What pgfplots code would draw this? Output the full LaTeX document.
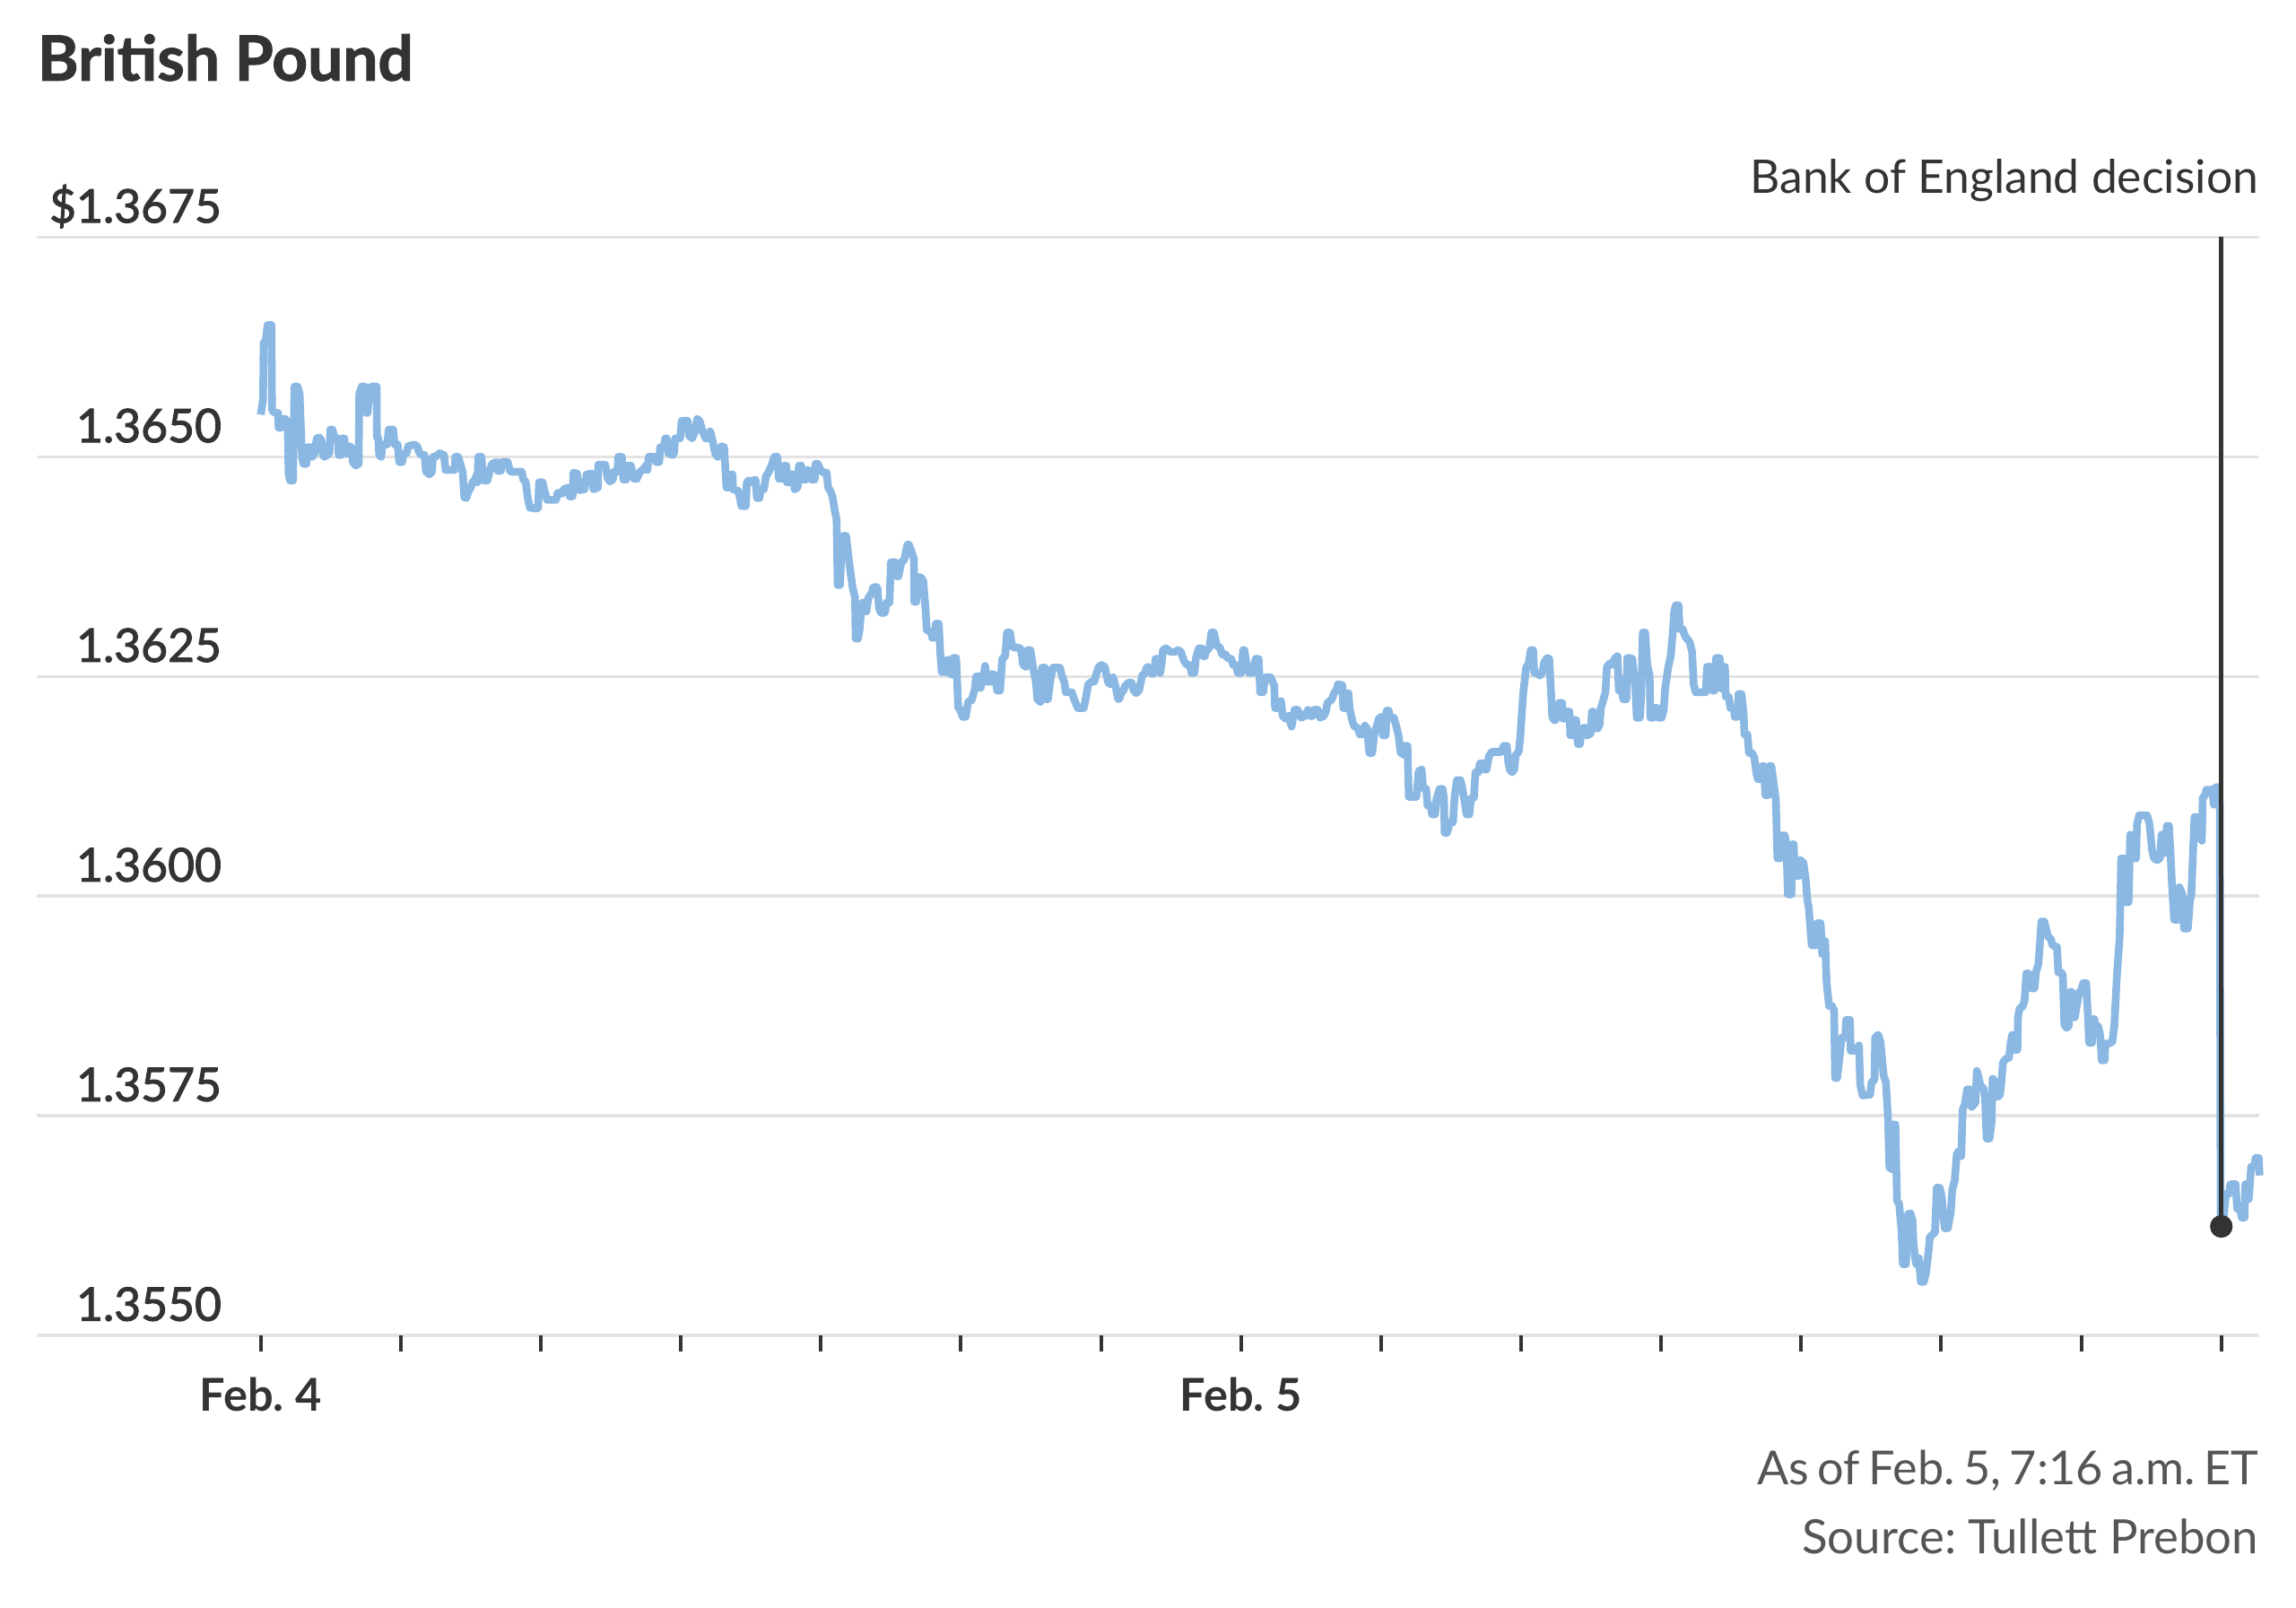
\documentclass[border=0pt]{standalone}
\usepackage{fontspec}
\setmainfont{Lato}
\usepackage{pgfplots}
\pgfplotsset{compat=1.18}
\definecolor{gbpblue}{HTML}{8AB8E2}
\definecolor{inkdark}{HTML}{333333}
\definecolor{gridgray}{HTML}{E3E3E3}
\definecolor{notegray}{HTML}{555555}
\newfontfamily\semib{Lato}[FakeBold=2]
\newfontfamily\titlefont{Lato}[BoldFeatures={FakeBold=1.5}]
\frenchspacing

\begin{document}
\begin{tikzpicture}
\path[use as bounding box] (-2.5mm,-18.56mm) rectangle (154.3mm,91.2mm);
\begin{axis}[
  at={(0,0)}, anchor=south west,
  scale only axis, width=151.8mm, height=75mm,
  xmin=-1.6, xmax=14.272, ymin=1.355, ymax=1.3675,
  axis line style={draw=none},
  xtick={0,1,2,3,4,5,6,7,8,9,10,11,12,13,14},
  xticklabels={Feb. 4,,,,,,,Feb. 5,,,,,,,},
  ytick={1.355,1.3575,1.36,1.3625,1.365,1.3675},
  yticklabels={1.3550,1.3575,1.3600,1.3625,1.3650,\$1.3675},
  ymajorgrids, grid style={draw=gridgray, line width=0.6pt},
  xtick pos=bottom, ytick pos=left, tick align=outside,
  major tick length=1.1mm,
  ytick style={draw=none},
  xtick style={draw=inkdark, line width=0.7pt},
  xticklabel style={font=\fontsize{8.8}{10}\selectfont\bfseries, text=inkdark,
    anchor=base, inner sep=0pt, yshift=-4.1mm},
  yticklabel style={font=\fontsize{9}{10}\selectfont\semib, text=inkdark,
    anchor=base east, inner sep=0pt, xshift=13.8mm, yshift=1.0mm},
  clip=false,
]
\addplot[gbpblue, line width=1.5pt, line join=round] table {
x y
0.000 1.36548
0.017 1.36565
0.021 1.36630
0.034 1.36630
0.049 1.36650
0.077 1.36650
0.081 1.36553
0.102 1.36550
0.124 1.36550
0.128 1.36533
0.145 1.36533
0.149 1.36543
0.177 1.36543
0.192 1.36539
0.199 1.36482
0.209 1.36473
0.231 1.36473
0.241 1.36580
0.263 1.36580
0.278 1.36572
0.295 1.36500
0.305 1.36492
0.327 1.36492
0.335 1.36511
0.359 1.36511
0.369 1.36500
0.384 1.36504
0.401 1.36521
0.418 1.36522
0.433 1.36519
0.444 1.36502
0.455 1.36500
0.476 1.36502
0.491 1.36504
0.497 1.36531
0.512 1.36531
0.529 1.36521
0.551 1.36521
0.557 1.36502
0.572 1.36502
0.583 1.36521
0.598 1.36521
0.604 1.36504
0.625 1.36504
0.636 1.36512
0.651 1.36510
0.658 1.36494
0.679 1.36490
0.700 1.36492
0.704 1.36572
0.722 1.36580
0.743 1.36580
0.754 1.36550
0.764 1.36550
0.775 1.36570
0.786 1.36570
0.790 1.36580
0.828 1.36580
0.830 1.36522
0.839 1.36522
0.846 1.36502
0.860 1.36500
0.871 1.36514
0.903 1.36514
0.914 1.36531
0.946 1.36531
0.956 1.36514
0.978 1.36514
0.989 1.36494
1.010 1.36494
1.021 1.36504
1.042 1.36504
1.053 1.36512
1.096 1.36514
1.117 1.36512
1.132 1.36505
1.149 1.36502
1.170 1.36502
1.181 1.36483
1.206 1.36480
1.223 1.36483
1.230 1.36500
1.249 1.36500
1.277 1.36504
1.309 1.36502
1.320 1.36485
1.384 1.36485
1.390 1.36500
1.409 1.36500
1.426 1.36492
1.443 1.36482
1.454 1.36454
1.469 1.36453
1.484 1.36461
1.501 1.36465
1.512 1.36471
1.527 1.36473
1.544 1.36480
1.548 1.36471
1.554 1.36500
1.576 1.36500
1.593 1.36473
1.618 1.36473
1.640 1.36486
1.651 1.36492
1.683 1.36494
1.693 1.36484
1.715 1.36484
1.721 1.36494
1.764 1.36494
1.779 1.36484
1.794 1.36483
1.864 1.36483
1.875 1.36474
1.892 1.36472
1.907 1.36453
1.922 1.36442
1.939 1.36442
1.964 1.36441
1.981 1.36442
1.988 1.36471
2.013 1.36471
2.024 1.36463
2.045 1.36451
2.109 1.36451
2.120 1.36459
2.152 1.36458
2.163 1.36463
2.195 1.36465
2.206 1.36455
2.227 1.36455
2.233 1.36482
2.259 1.36481
2.274 1.36462
2.312 1.36463
2.327 1.36480
2.366 1.36481
2.376 1.36463
2.408 1.36465
2.410 1.36491
2.461 1.36491
2.476 1.36476
2.493 1.36472
2.515 1.36474
2.521 1.36483
2.547 1.36483
2.553 1.36500
2.579 1.36500
2.590 1.36474
2.610 1.36474
2.622 1.36490
2.643 1.36490
2.665 1.36475
2.686 1.36475
2.707 1.36483
2.729 1.36485
2.750 1.36490
2.761 1.36485
2.771 1.36500
2.814 1.36500
2.825 1.36494
2.846 1.36494
2.852 1.36511
2.878 1.36511
2.889 1.36521
2.899 1.36521
2.910 1.36504
2.942 1.36502
2.953 1.36505
2.959 1.36521
2.995 1.36521
3.006 1.36541
3.049 1.36541
3.059 1.36524
3.081 1.36521
3.102 1.36529
3.117 1.36543
3.134 1.36541
3.155 1.36529
3.177 1.36521
3.198 1.36521
3.209 1.36529
3.226 1.36519
3.245 1.36504
3.262 1.36500
3.288 1.36512
3.309 1.36511
3.326 1.36465
3.348 1.36465
3.358 1.36480
3.369 1.36480
3.373 1.36463
3.412 1.36461
3.433 1.36444
3.465 1.36444
3.471 1.36471
3.486 1.36473
3.508 1.36471
3.518 1.36473
3.533 1.36474
3.544 1.36453
3.561 1.36453
3.572 1.36463
3.593 1.36463
3.608 1.36478
3.625 1.36482
3.647 1.36490
3.668 1.36500
3.689 1.36500
3.700 1.36475
3.732 1.36475
3.736 1.36490
3.753 1.36490
3.757 1.36471
3.775 1.36471
3.785 1.36480
3.800 1.36480
3.813 1.36463
3.834 1.36465
3.843 1.36490
3.860 1.36490
3.871 1.36474
3.892 1.36474
3.903 1.36485
3.924 1.36484
3.935 1.36474
3.956 1.36474
3.962 1.36492
3.977 1.36492
3.992 1.36487
4.009 1.36483
4.020 1.36482
4.041 1.36482
4.052 1.36465
4.069 1.36461
4.084 1.36454
4.099 1.36439
4.112 1.36429
4.120 1.36354
4.137 1.36354
4.148 1.36398
4.159 1.36410
4.180 1.36410
4.201 1.36381
4.212 1.36368
4.227 1.36351
4.244 1.36340
4.248 1.36293
4.265 1.36293
4.276 1.36303
4.287 1.36323
4.297 1.36334
4.319 1.36334
4.325 1.36324
4.340 1.36340
4.361 1.36344
4.372 1.36351
4.394 1.36352
4.404 1.36351
4.415 1.36328
4.426 1.36323
4.441 1.36322
4.458 1.36323
4.468 1.36334
4.490 1.36334
4.500 1.36380
4.532 1.36380
4.543 1.36364
4.554 1.36364
4.575 1.36380
4.596 1.36383
4.618 1.36400
4.628 1.36400
4.650 1.36391
4.665 1.36383
4.667 1.36335
4.682 1.36335
4.692 1.36363
4.714 1.36363
4.731 1.36359
4.746 1.36330
4.756 1.36303
4.789 1.36300
4.795 1.36294
4.810 1.36294
4.820 1.36310
4.842 1.36310
4.853 1.36276
4.863 1.36255
4.889 1.36255
4.906 1.36269
4.917 1.36254
4.938 1.36252
4.944 1.36271
4.966 1.36271
4.981 1.36214
4.991 1.36213
5.013 1.36204
5.034 1.36204
5.051 1.36221
5.077 1.36223
5.098 1.36235
5.109 1.36250
5.130 1.36250
5.141 1.36237
5.162 1.36250
5.173 1.36262
5.188 1.36244
5.216 1.36244
5.226 1.36253
5.248 1.36251
5.258 1.36234
5.280 1.36234
5.295 1.36270
5.316 1.36273
5.329 1.36300
5.350 1.36300
5.365 1.36285
5.376 1.36283
5.397 1.36283
5.423 1.36282
5.435 1.36275
5.444 1.36263
5.465 1.36261
5.476 1.36280
5.497 1.36280
5.514 1.36261
5.536 1.36243
5.546 1.36224
5.568 1.36221
5.578 1.36260
5.600 1.36260
5.606 1.36224
5.621 1.36224
5.642 1.36249
5.657 1.36260
5.707 1.36260
5.721 1.36251
5.739 1.36243
5.749 1.36232
5.792 1.36232
5.813 1.36222
5.835 1.36214
5.877 1.36214
5.888 1.36222
5.909 1.36241
5.931 1.36244
5.952 1.36244
5.963 1.36251
5.984 1.36261
6.005 1.36263
6.027 1.36261
6.037 1.36253
6.052 1.36243
6.069 1.36241
6.086 1.36249
6.101 1.36241
6.123 1.36224
6.133 1.36225
6.144 1.36231
6.161 1.36234
6.172 1.36239
6.198 1.36243
6.219 1.36243
6.234 1.36234
6.251 1.36231
6.272 1.36234
6.294 1.36251
6.315 1.36254
6.326 1.36260
6.336 1.36261
6.362 1.36253
6.379 1.36254
6.390 1.36270
6.417 1.36270
6.422 1.36254
6.432 1.36263
6.443 1.36280
6.464 1.36282
6.496 1.36278
6.528 1.36278
6.550 1.36280
6.571 1.36278
6.592 1.36268
6.614 1.36263
6.635 1.36263
6.646 1.36254
6.667 1.36254
6.678 1.36271
6.699 1.36282
6.720 1.36282
6.731 1.36273
6.742 1.36273
6.752 1.36280
6.774 1.36282
6.789 1.36300
6.806 1.36300
6.827 1.36285
6.849 1.36283
6.866 1.36275
6.891 1.36275
6.902 1.36271
6.930 1.36270
6.945 1.36263
6.966 1.36263
6.977 1.36254
7.002 1.36254
7.015 1.36280
7.024 1.36280
7.041 1.36263
7.058 1.36254
7.083 1.36254
7.105 1.36270
7.126 1.36270
7.137 1.36232
7.158 1.36232
7.173 1.36249
7.211 1.36249
7.237 1.36240
7.243 1.36214
7.265 1.36214
7.286 1.36222
7.297 1.36205
7.318 1.36202
7.339 1.36205
7.361 1.36193
7.382 1.36212
7.404 1.36212
7.429 1.36203
7.457 1.36205
7.478 1.36212
7.493 1.36205
7.510 1.36205
7.521 1.36212
7.549 1.36212
7.564 1.36203
7.591 1.36205
7.606 1.36210
7.617 1.36220
7.649 1.36224
7.664 1.36231
7.681 1.36234
7.692 1.36241
7.724 1.36240
7.730 1.36214
7.745 1.36214
7.767 1.36231
7.777 1.36212
7.799 1.36197
7.809 1.36193
7.831 1.36192
7.848 1.36184
7.869 1.36184
7.884 1.36194
7.899 1.36191
7.916 1.36163
7.937 1.36163
7.954 1.36188
7.969 1.36193
7.984 1.36202
8.001 1.36204
8.012 1.36183
8.033 1.36183
8.040 1.36211
8.055 1.36211
8.065 1.36203
8.091 1.36203
8.108 1.36194
8.125 1.36183
8.140 1.36163
8.161 1.36161
8.168 1.36171
8.189 1.36171
8.198 1.36113
8.253 1.36113
8.268 1.36142
8.290 1.36144
8.300 1.36123
8.322 1.36122
8.332 1.36103
8.354 1.36103
8.364 1.36093
8.386 1.36093
8.396 1.36111
8.418 1.36122
8.439 1.36122
8.450 1.36111
8.454 1.36072
8.471 1.36072
8.492 1.36084
8.514 1.36084
8.524 1.36111
8.541 1.36132
8.567 1.36132
8.578 1.36125
8.599 1.36105
8.610 1.36093
8.631 1.36093
8.642 1.36111
8.663 1.36112
8.674 1.36141
8.695 1.36141
8.706 1.36151
8.727 1.36151
8.738 1.36144
8.753 1.36144
8.770 1.36159
8.791 1.36164
8.855 1.36164
8.877 1.36171
8.898 1.36171
8.909 1.36152
8.919 1.36144
8.936 1.36141
8.951 1.36144
8.962 1.36161
8.983 1.36164
8.994 1.36181
9.005 1.36207
9.015 1.36231
9.037 1.36261
9.052 1.36263
9.069 1.36280
9.086 1.36280
9.094 1.36254
9.111 1.36254
9.133 1.36251
9.150 1.36254
9.165 1.36266
9.186 1.36271
9.201 1.36270
9.214 1.36231
9.222 1.36204
9.239 1.36200
9.250 1.36201
9.272 1.36220
9.293 1.36220
9.299 1.36202
9.314 1.36202
9.321 1.36210
9.346 1.36210
9.351 1.36183
9.368 1.36183
9.378 1.36201
9.393 1.36200
9.406 1.36173
9.421 1.36173
9.432 1.36190
9.453 1.36192
9.464 1.36183
9.474 1.36183
9.496 1.36185
9.506 1.36210
9.517 1.36210
9.521 1.36191
9.549 1.36191
9.560 1.36195
9.570 1.36214
9.585 1.36222
9.602 1.36232
9.613 1.36261
9.634 1.36265
9.656 1.36263
9.666 1.36270
9.688 1.36273
9.698 1.36234
9.705 1.36248
9.720 1.36232
9.730 1.36224
9.752 1.36224
9.758 1.36271
9.777 1.36271
9.794 1.36270
9.816 1.36237
9.826 1.36203
9.848 1.36203
9.858 1.36229
9.869 1.36300
9.886 1.36300
9.901 1.36263
9.918 1.36251
9.923 1.36203
9.944 1.36203
9.955 1.36214
9.976 1.36214
9.982 1.36203
10.004 1.36203
10.019 1.36212
10.029 1.36237
10.051 1.36261
10.068 1.36273
10.083 1.36299
10.093 1.36324
10.104 1.36331
10.125 1.36331
10.132 1.36304
10.153 1.36304
10.168 1.36297
10.179 1.36294
10.189 1.36292
10.204 1.36289
10.221 1.36278
10.232 1.36241
10.247 1.36232
10.318 1.36232
10.328 1.36261
10.354 1.36261
10.367 1.36234
10.382 1.36234
10.392 1.36271
10.418 1.36271
10.431 1.36236
10.446 1.36261
10.456 1.36261
10.461 1.36227
10.482 1.36227
10.495 1.36214
10.520 1.36214
10.525 1.36204
10.546 1.36204
10.552 1.36230
10.574 1.36230
10.589 1.36207
10.595 1.36184
10.616 1.36184
10.627 1.36163
10.648 1.36163
10.665 1.36158
10.680 1.36140
10.691 1.36133
10.712 1.36133
10.723 1.36148
10.734 1.36148
10.744 1.36115
10.766 1.36115
10.772 1.36148
10.787 1.36148
10.802 1.36130
10.819 1.36110
10.830 1.36043
10.851 1.36043
10.858 1.36069
10.883 1.36069
10.894 1.36059
10.905 1.36002
10.930 1.36002
10.937 1.36059
10.947 1.36059
10.952 1.36023
10.986 1.36023
10.994 1.36041
11.016 1.36038
11.033 1.36018
11.043 1.35997
11.054 1.35987
11.075 1.35944
11.107 1.35944
11.114 1.35969
11.139 1.35969
11.150 1.35934
11.171 1.35949
11.182 1.35900
11.199 1.35875
11.220 1.35875
11.235 1.35870
11.242 1.35793
11.257 1.35793
11.272 1.35814
11.289 1.35839
11.314 1.35839
11.321 1.35859
11.349 1.35859
11.353 1.35824
11.385 1.35824
11.413 1.35830
11.421 1.35786
11.438 1.35773
11.492 1.35774
11.502 1.35788
11.524 1.35791
11.528 1.35839
11.549 1.35842
11.566 1.35834
11.577 1.35816
11.588 1.35796
11.605 1.35788
11.620 1.35747
11.630 1.35691
11.652 1.35689
11.656 1.35740
11.673 1.35740
11.684 1.35653
11.699 1.35650
11.716 1.35620
11.726 1.35581
11.748 1.35581
11.763 1.35638
11.780 1.35639
11.795 1.35631
11.801 1.35607
11.812 1.35589
11.822 1.35581
11.840 1.35588
11.854 1.35561
11.876 1.35561
11.891 1.35571
11.908 1.35594
11.919 1.35612
11.940 1.35615
11.955 1.35617
11.968 1.35668
11.989 1.35668
12.004 1.35658
12.015 1.35635
12.025 1.35622
12.047 1.35622
12.068 1.35640
12.079 1.35666
12.096 1.35676
12.111 1.35706
12.121 1.35709
12.143 1.35704
12.153 1.35757
12.168 1.35763
12.185 1.35780
12.202 1.35780
12.217 1.35760
12.228 1.35762
12.245 1.35765
12.254 1.35801
12.266 1.35794
12.281 1.35784
12.303 1.35781
12.313 1.35770
12.324 1.35724
12.345 1.35724
12.360 1.35743
12.367 1.35792
12.377 1.35791
12.388 1.35772
12.409 1.35772
12.420 1.35774
12.431 1.35791
12.441 1.35811
12.463 1.35815
12.484 1.35816
12.495 1.35832
12.506 1.35842
12.527 1.35825
12.544 1.35825
12.548 1.35862
12.559 1.35872
12.580 1.35874
12.595 1.35881
12.608 1.35912
12.623 1.35912
12.644 1.35895
12.666 1.35895
12.676 1.35913
12.693 1.35922
12.702 1.35940
12.715 1.35971
12.736 1.35971
12.751 1.35961
12.762 1.35954
12.783 1.35951
12.794 1.35944
12.826 1.35942
12.836 1.35913
12.858 1.35913
12.868 1.35910
12.879 1.35854
12.894 1.35850
12.911 1.35852
12.922 1.35891
12.932 1.35891
12.937 1.35862
12.954 1.35862
12.964 1.35872
12.986 1.35891
12.996 1.35891
13.014 1.35901
13.035 1.35901
13.050 1.35855
13.056 1.35833
13.078 1.35833
13.082 1.35860
13.093 1.35860
13.099 1.35852
13.120 1.35852
13.135 1.35842
13.146 1.35813
13.167 1.35813
13.172 1.35832
13.193 1.35832
13.221 1.35834
13.236 1.35852
13.253 1.35906
13.274 1.35954
13.285 1.36043
13.306 1.36043
13.317 1.35993
13.338 1.35993
13.349 1.36070
13.370 1.36043
13.391 1.36043
13.398 1.36082
13.413 1.36092
13.470 1.36092
13.487 1.36082
13.505 1.36053
13.519 1.36043
13.541 1.36041
13.562 1.36043
13.573 1.36070
13.594 1.36070
13.598 1.36049
13.611 1.36080
13.626 1.36080
13.637 1.36049
13.648 1.36012
13.663 1.35973
13.690 1.35973
13.701 1.36010
13.722 1.36002
13.733 1.35963
13.761 1.35963
13.776 1.35995
13.786 1.36002
13.808 1.36090
13.825 1.36090
13.833 1.36066
13.850 1.36066
13.861 1.36063
13.867 1.36112
13.882 1.36114
13.893 1.36121
13.936 1.36121
13.946 1.36104
13.953 1.36123
13.968 1.36124
13.978 1.36124
13.989 1.36104
13.995 1.35624
14.010 1.35620
14.032 1.35661
14.053 1.35661
14.064 1.35672
14.102 1.35672
14.113 1.35644
14.134 1.35644
14.145 1.35634
14.166 1.35634
14.171 1.35672
14.188 1.35672
14.196 1.35655
14.213 1.35692
14.235 1.35692
14.245 1.35702
14.267 1.35702
14.273 1.35682
};
% Bank of England decision marker
\addplot[inkdark, line width=0.8pt] coordinates {(14,1.3675) (14,1.35624)};
\addplot[only marks, mark=*, mark size=2pt, inkdark] coordinates {(14,1.35624)};
\end{axis}
\node[anchor=base west, inner sep=0pt, text=inkdark,
  font=\fontsize{12.1}{14}\selectfont\titlefont\bfseries] at (0,85.7mm) {British Pound};
\node[anchor=base east, inner sep=0pt, text=inkdark,
  font=\fontsize{9}{10}\selectfont] at (151.8mm,78mm) {Bank of England decision};
\node[anchor=base east, inner sep=0pt, text=notegray,
  font=\fontsize{9.1}{10}\selectfont] at (151.8mm,-10.2mm) {\spaceskip=0.18em As of Feb. 5, 7:16 a.m. ET};
\node[anchor=base east, inner sep=0pt, text=notegray,
  font=\fontsize{9.2}{10}\selectfont] at (151.8mm,-14.9mm) {Source: Tullett Prebon};
\end{tikzpicture}
\end{document}
